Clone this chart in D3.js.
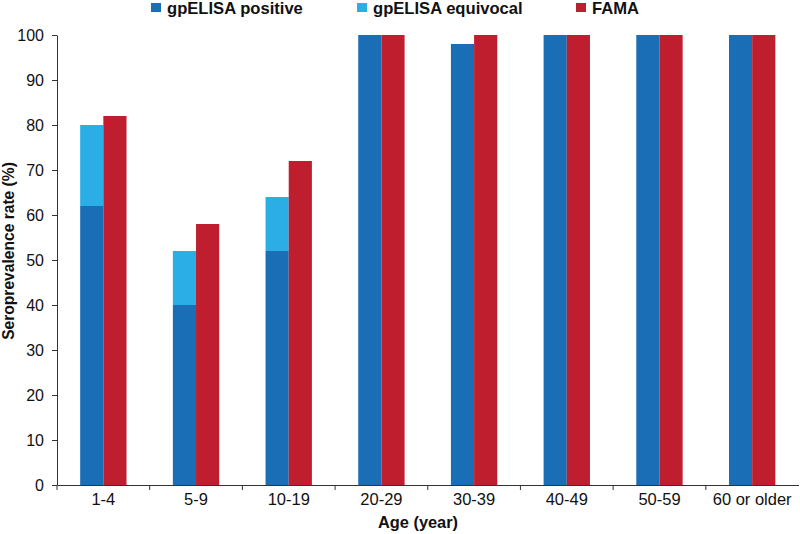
<!DOCTYPE html>
<html><head><meta charset="utf-8">
<script src="https://cdn.jsdelivr.net/npm/d3@7"></script>
<style>body{margin:0;background:#fff;} text{font-family:"Liberation Sans",Arial,sans-serif;}</style>
</head><body><svg id="c" width="800" height="534"></svg>
<script>
const categories = ["1-4","5-9","10-19","20-29","30-39","40-49","50-59","60 or older"];
const gpPositive = [62,40,52,100,98,100,100,100];
const gpEquivocal = [18,12,12,0,0,0,0,0];
const fama = [82,58,72,100,100,100,100,100];
const yTicks = [0,10,20,30,40,50,60,70,80,90,100];
const seriesNames = ["gpELISA positive","gpELISA equivocal","FAMA"];
const colors = ["#1a6eb6","#2aaee5","#be1e2d"];

const svg = d3.select("#c");
const m = {l:57, r:1.5, t:35, b:49};
const W = 800, H = 534;
const x = d3.scaleBand().domain(categories).range([m.l, W - m.r]).paddingInner(0).paddingOuter(0);
const y = d3.scaleLinear().domain([0,100]).range([H - m.b, m.t]);
const bw = x.bandwidth()*0.25;

const g = svg.append("g");
categories.forEach((c,i)=>{
  const cx = x(c) + x.bandwidth()/2;
  g.append("rect").attr("x", cx-bw).attr("width", bw).attr("y", y(gpPositive[i])).attr("height", y(0)-y(gpPositive[i])).attr("fill", colors[0]);
  if (gpEquivocal[i]>0) g.append("rect").attr("x", cx-bw).attr("width", bw).attr("y", y(gpPositive[i]+gpEquivocal[i])).attr("height", y(gpPositive[i])-y(gpPositive[i]+gpEquivocal[i])).attr("fill", colors[1]);
  g.append("rect").attr("x", cx).attr("width", bw).attr("y", y(fama[i])).attr("height", y(0)-y(fama[i])).attr("fill", colors[2]);
});

// y axis
const ya = svg.append("g").attr("transform",`translate(${m.l},0)`).call(d3.axisLeft(y).tickValues(yTicks).tickSize(5).tickSizeOuter(0).tickPadding(8));
ya.select(".domain").attr("stroke","#333");
ya.selectAll(".tick line").attr("stroke","#333");
ya.selectAll("text").attr("font-size",16).attr("fill","#111").style("font-family","Liberation Sans, Arial, sans-serif");

// x axis
const xa = svg.append("g").attr("transform",`translate(0,${y(0)})`).call(d3.axisBottom(x).tickSize(0).tickPadding(8));
xa.select(".domain").attr("stroke","#333");
xa.selectAll("text").attr("font-size",16.5).attr("fill","#111").style("font-family","Liberation Sans, Arial, sans-serif");
// boundary ticks
const bounds = categories.map(c=>x(c));
svg.append("g").selectAll("line").data(bounds).join("line")
  .attr("x1",d=>d).attr("x2",d=>d).attr("y1",y(0)).attr("y2",y(0)+5).attr("stroke","#333");

// titles
svg.append("text").attr("x",418).attr("y",528).attr("text-anchor","middle").attr("font-size",16.4).attr("font-weight","bold").attr("fill","#111").text("Age (year)");
svg.append("text").attr("transform",`translate(14,${(m.t + H - m.b)/2 - 9}) rotate(-90)`).attr("text-anchor","middle").attr("font-size",15.6).attr("font-weight","bold").attr("fill","#111").text("Seroprevalence rate (%)");

// legend
const legX = [151, 357, 576];
seriesNames.forEach((n,i)=>{
  svg.append("rect").attr("x",legX[i]).attr("y",3).attr("width",10).attr("height",9).attr("fill",colors[i]);
  svg.append("text").attr("x",legX[i]+16).attr("y",14).attr("font-size",16.6).attr("font-weight","bold").attr("fill","#111").text(n);
});
</script></body></html>
